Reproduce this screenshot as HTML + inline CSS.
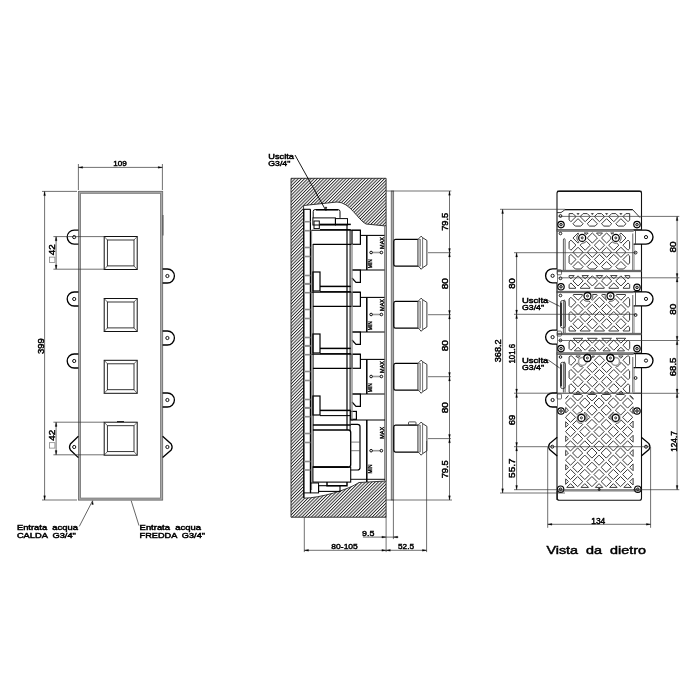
<!DOCTYPE html>
<html><head><meta charset="utf-8"><style>html,body{margin:0;padding:0;background:#fff;width:700px;height:700px;overflow:hidden}svg{display:block;will-change:transform}</style></head><body>
<svg width="700" height="700" viewBox="0 0 700 700"><defs><pattern id="hatch" patternUnits="userSpaceOnUse" width="2.26" height="10" patternTransform="rotate(45)"><line x1="0.5" y1="0" x2="0.5" y2="10" stroke="#111" stroke-width="0.85"/></pattern></defs><rect x="79.6" y="192.3" width="82" height="306.8" stroke="#aaaaaa" stroke-width="2.4" fill="none"/>
<rect x="78.5" y="191.3" width="84.2" height="308.8" stroke="#666" stroke-width="0.8" fill="none"/>
<rect x="80.6" y="193.3" width="79.9" height="304.8" stroke="#777" stroke-width="0.8" fill="none"/>
<line x1="163" y1="215" x2="163" y2="235.5" stroke="#444" stroke-width="0.9"/>
<line x1="78.4" y1="164" x2="78.4" y2="190" stroke="#333" stroke-width="0.7"/>
<line x1="162.4" y1="164" x2="162.4" y2="190" stroke="#333" stroke-width="0.7"/>
<line x1="78.4" y1="167.4" x2="162.4" y2="167.4" stroke="#333" stroke-width="0.7"/>
<path d="M78.6,167.4 L82.6,166.5 L82.6,168.3 Z" stroke="#000" stroke-width="0.3" fill="#000"/>
<path d="M162.2,167.4 L158.2,166.5 L158.2,168.3 Z" stroke="#000" stroke-width="0.3" fill="#000"/>
<text x="120" y="166.2" font-family="Liberation Sans" font-size="7.4" font-weight="normal" text-anchor="middle" fill="#000" stroke="#000" stroke-width="0.45" style="white-space:pre" textLength="13.5" lengthAdjust="spacingAndGlyphs">109</text>
<line x1="42" y1="191.4" x2="77" y2="191.4" stroke="#333" stroke-width="0.7"/>
<line x1="42" y1="500" x2="77" y2="500" stroke="#333" stroke-width="0.7"/>
<line x1="44.6" y1="191.4" x2="44.6" y2="500" stroke="#333" stroke-width="0.7"/>
<path d="M44.6,191.6 L43.7,195.6 L45.5,195.6 Z" stroke="#000" stroke-width="0.3" fill="#000"/>
<path d="M44.6,499.8 L43.7,495.8 L45.5,495.8 Z" stroke="#000" stroke-width="0.3" fill="#000"/>
<text x="44" y="346.1" font-family="Liberation Sans" font-size="8.6" font-weight="normal" text-anchor="middle" fill="#000" stroke="#000" stroke-width="0.45" style="white-space:pre" textLength="15.7" lengthAdjust="spacingAndGlyphs" transform="rotate(-90 44 346.1)">399</text>
<rect x="104.2" y="236.5" width="33" height="33" stroke="#111" stroke-width="1" fill="none"/>
<rect x="107.4" y="240" width="26.6" height="25.9" stroke="#222" stroke-width="0.9" fill="none"/>
<line x1="104.2" y1="236.5" x2="107.4" y2="240" stroke="#333" stroke-width="0.7"/>
<line x1="137.2" y1="236.5" x2="134" y2="240" stroke="#333" stroke-width="0.7"/>
<line x1="104.2" y1="269.5" x2="107.4" y2="265.9" stroke="#333" stroke-width="0.7"/>
<line x1="137.2" y1="269.5" x2="134" y2="265.9" stroke="#333" stroke-width="0.7"/>
<rect x="104.2" y="298.5" width="33" height="33" stroke="#111" stroke-width="1" fill="none"/>
<rect x="107.4" y="302" width="26.6" height="25.9" stroke="#222" stroke-width="0.9" fill="none"/>
<line x1="104.2" y1="298.5" x2="107.4" y2="302" stroke="#333" stroke-width="0.7"/>
<line x1="137.2" y1="298.5" x2="134" y2="302" stroke="#333" stroke-width="0.7"/>
<line x1="104.2" y1="331.5" x2="107.4" y2="327.9" stroke="#333" stroke-width="0.7"/>
<line x1="137.2" y1="331.5" x2="134" y2="327.9" stroke="#333" stroke-width="0.7"/>
<rect x="104.2" y="360.3" width="33" height="33" stroke="#111" stroke-width="1" fill="none"/>
<rect x="107.4" y="363.8" width="26.6" height="25.9" stroke="#222" stroke-width="0.9" fill="none"/>
<line x1="104.2" y1="360.3" x2="107.4" y2="363.8" stroke="#333" stroke-width="0.7"/>
<line x1="137.2" y1="360.3" x2="134" y2="363.8" stroke="#333" stroke-width="0.7"/>
<line x1="104.2" y1="393.3" x2="107.4" y2="389.7" stroke="#333" stroke-width="0.7"/>
<line x1="137.2" y1="393.3" x2="134" y2="389.7" stroke="#333" stroke-width="0.7"/>
<rect x="104.2" y="422.2" width="33" height="33" stroke="#111" stroke-width="1" fill="none"/>
<rect x="107.4" y="425.7" width="26.6" height="25.9" stroke="#222" stroke-width="0.9" fill="none"/>
<line x1="104.2" y1="422.2" x2="107.4" y2="425.7" stroke="#333" stroke-width="0.7"/>
<line x1="137.2" y1="422.2" x2="134" y2="425.7" stroke="#333" stroke-width="0.7"/>
<line x1="104.2" y1="455.2" x2="107.4" y2="451.6" stroke="#333" stroke-width="0.7"/>
<line x1="137.2" y1="455.2" x2="134" y2="451.6" stroke="#333" stroke-width="0.7"/>
<line x1="117" y1="421.6" x2="124" y2="421.6" stroke="#222" stroke-width="1.2"/>
<path d="M78.4,230.1 L74.2,230.1 A7,7 0 0 0 74.2,244.1 L78.4,244.1" stroke="#000" stroke-width="1.3" fill="none"/>
<circle cx="74.2" cy="237.1" r="1.6" stroke="#111" stroke-width="1" fill="none"/>
<path d="M78.4,292 L74.2,292 A7,7 0 0 0 74.2,306 L78.4,306" stroke="#000" stroke-width="1.3" fill="none"/>
<circle cx="74.2" cy="299" r="1.6" stroke="#111" stroke-width="1" fill="none"/>
<path d="M78.4,354 L74.2,354 A7,7 0 0 0 74.2,368 L78.4,368" stroke="#000" stroke-width="1.3" fill="none"/>
<circle cx="74.2" cy="361" r="1.6" stroke="#111" stroke-width="1" fill="none"/>
<path d="M162.6,269 L167.4,269 A7,7 0 0 1 167.4,283 L162.6,283" stroke="#000" stroke-width="1.3" fill="none"/>
<circle cx="167.4" cy="276" r="1.6" stroke="#111" stroke-width="1" fill="none"/>
<path d="M162.6,331 L167.4,331 A7,7 0 0 1 167.4,345 L162.6,345" stroke="#000" stroke-width="1.3" fill="none"/>
<circle cx="167.4" cy="338" r="1.6" stroke="#111" stroke-width="1" fill="none"/>
<path d="M162.6,393 L167.4,393 A7,7 0 0 1 167.4,407 L162.6,407" stroke="#000" stroke-width="1.3" fill="none"/>
<circle cx="167.4" cy="400" r="1.6" stroke="#111" stroke-width="1" fill="none"/>
<path d="M78.4,436.2 L70.4,444 Q68.6,447 70.4,450 L78.4,457.6" stroke="#000" stroke-width="1.3" fill="none"/>
<circle cx="74.2" cy="447" r="1.6" stroke="#111" stroke-width="1" fill="none"/>
<path d="M162.6,436.2 L171.2,444 Q173,447 171.2,450 L162.6,457.6" stroke="#000" stroke-width="1.3" fill="none"/>
<circle cx="167.4" cy="447" r="1.6" stroke="#111" stroke-width="1" fill="none"/>
<line x1="53.4" y1="236.6" x2="104" y2="236.6" stroke="#333" stroke-width="0.7"/>
<line x1="53.4" y1="269.2" x2="104" y2="269.2" stroke="#333" stroke-width="0.7"/>
<line x1="56.1" y1="236.6" x2="56.1" y2="269.2" stroke="#333" stroke-width="0.7"/>
<path d="M56.1,236.8 L55.2,240.8 L57,240.8 Z" stroke="#000" stroke-width="0.3" fill="#000"/>
<path d="M56.1,269 L55.2,265 L57,265 Z" stroke="#000" stroke-width="0.3" fill="#000"/>
<rect x="49.6" y="257.1" width="5.3" height="5.4" stroke="#777" stroke-width="0.7" fill="none"/>
<text x="55.4" y="249.7" font-family="Liberation Sans" font-size="8.4" font-weight="normal" text-anchor="middle" fill="#000" stroke="#000" stroke-width="0.45" style="white-space:pre" textLength="10.9" lengthAdjust="spacingAndGlyphs" transform="rotate(-90 55.4 249.7)">42</text>
<line x1="53.4" y1="422.2" x2="104" y2="422.2" stroke="#333" stroke-width="0.7"/>
<line x1="53.4" y1="454.8" x2="104" y2="454.8" stroke="#333" stroke-width="0.7"/>
<line x1="56.1" y1="422.2" x2="56.1" y2="454.8" stroke="#333" stroke-width="0.7"/>
<path d="M56.1,422.4 L55.2,426.4 L57,426.4 Z" stroke="#000" stroke-width="0.3" fill="#000"/>
<path d="M56.1,454.6 L55.2,450.6 L57,450.6 Z" stroke="#000" stroke-width="0.3" fill="#000"/>
<rect x="49.6" y="442.7" width="5.3" height="5.4" stroke="#777" stroke-width="0.7" fill="none"/>
<text x="55.4" y="435.3" font-family="Liberation Sans" font-size="8.4" font-weight="normal" text-anchor="middle" fill="#000" stroke="#000" stroke-width="0.45" style="white-space:pre" textLength="10.9" lengthAdjust="spacingAndGlyphs" transform="rotate(-90 55.4 435.3)">42</text>
<line x1="92.6" y1="500.7" x2="79.3" y2="526.4" stroke="#222" stroke-width="0.7"/>
<path d="M92.6,500.9 L91.8,504.4 L93.4,504.4 Z" stroke="#000" stroke-width="0.3" fill="#000"/>
<line x1="131.2" y1="500.7" x2="139" y2="525.6" stroke="#222" stroke-width="0.7"/>
<text x="16.9" y="530" font-family="Liberation Sans" font-size="7" font-weight="normal" text-anchor="start" fill="#000" stroke="#000" stroke-width="0.45" style="white-space:pre" textLength="61" lengthAdjust="spacingAndGlyphs">Entrata  acqua</text>
<text x="16.9" y="537.8" font-family="Liberation Sans" font-size="7" font-weight="normal" text-anchor="start" fill="#000" stroke="#000" stroke-width="0.45" style="white-space:pre" textLength="59" lengthAdjust="spacingAndGlyphs">CALDA  G3/4"</text>
<text x="139.6" y="530" font-family="Liberation Sans" font-size="7" font-weight="normal" text-anchor="start" fill="#000" stroke="#000" stroke-width="0.45" style="white-space:pre" textLength="61.3" lengthAdjust="spacingAndGlyphs">Entrata  acqua</text>
<text x="139.6" y="537.8" font-family="Liberation Sans" font-size="7" font-weight="normal" text-anchor="start" fill="#000" stroke="#000" stroke-width="0.45" style="white-space:pre" textLength="65.4" lengthAdjust="spacingAndGlyphs">FREDDA  G3/4"</text>
<path d="M291,178.3 H386.1 V517.2 H291 Z M303.6,205.5 L337,202 C350,202 358,220 366,224 L386.1,226 L386.1,481 L359,482.5 C348,490 320,498 303.9,498.2 Z" fill="url(#hatch)" fill-rule="evenodd" stroke="#222" stroke-width="0.9"/>
<line x1="303.8" y1="209.3" x2="303.8" y2="498" stroke="#000" stroke-width="1.2"/>
<line x1="310.4" y1="209.3" x2="310.4" y2="493" stroke="#000" stroke-width="1.2"/>
<line x1="303.8" y1="209.3" x2="310.4" y2="209.3" stroke="#000" stroke-width="1.08"/>
<line x1="311.6" y1="230" x2="311.6" y2="490" stroke="#555" stroke-width="0.7"/>
<line x1="313.1" y1="244" x2="313.1" y2="467" stroke="#111" stroke-width="1"/>
<path d="M313.2,217.9 V211.5 Q313.2,209.6 315,209.6 H338 Q340,209.6 340,211.5 V217.9" stroke="#000" stroke-width="0.96" fill="none"/>
<line x1="316" y1="209.8" x2="338" y2="209.8" stroke="#000" stroke-width="1.5"/>
<rect x="312.9" y="217.9" width="22.5" height="7.1" stroke="#000" stroke-width="0.96" fill="none"/>
<rect x="335.4" y="218.6" width="12.1" height="6.4" stroke="#000" stroke-width="0.96" fill="none"/>
<rect x="314" y="221" width="5.3" height="7.6" stroke="#000" stroke-width="0.96" fill="none"/>
<rect x="384.3" y="226" width="2.3" height="255" stroke="#666" stroke-width="0.6" fill="#aaa"/>
<line x1="320" y1="224.4" x2="350.8" y2="224.4" stroke="#000" stroke-width="1.5"/>
<line x1="320" y1="229.6" x2="350.8" y2="229.6" stroke="#000" stroke-width="1.08"/>
<line x1="311.5" y1="230.2" x2="360.4" y2="230.2" stroke="#000" stroke-width="1.08"/>
<rect x="352" y="230.2" width="8.4" height="14.1" stroke="#000" stroke-width="1.2" fill="none"/>
<line x1="366.8" y1="235.4" x2="366.8" y2="270" stroke="#000" stroke-width="1.5"/>
<line x1="360.4" y1="235.4" x2="384.5" y2="235.4" stroke="#000" stroke-width="1.08"/>
<line x1="352" y1="270" x2="384.5" y2="270" stroke="#000" stroke-width="1.08"/>
<text x="384.2" y="243" font-family="Liberation Sans" font-size="5.4" font-weight="normal" text-anchor="middle" fill="#000" stroke="#000" stroke-width="0.38" style="white-space:pre" textLength="11.8" lengthAdjust="spacingAndGlyphs" transform="rotate(-90 384.2 243)">MAX</text>
<text x="371.9" y="263.7" font-family="Liberation Sans" font-size="5.4" font-weight="normal" text-anchor="middle" fill="#000" stroke="#000" stroke-width="0.38" style="white-space:pre" textLength="8.9" lengthAdjust="spacingAndGlyphs" transform="rotate(-90 371.9 263.7)">MIN</text>
<line x1="371.1" y1="252.5" x2="381.4" y2="252.5" stroke="#999" stroke-width="1.6"/>
<circle cx="371.1" cy="252.5" r="1.3" stroke="#000" stroke-width="0.96" fill="#fff"/>
<circle cx="381.4" cy="252.5" r="1.3" stroke="#000" stroke-width="0.96" fill="#fff"/>
<line x1="312.9" y1="244.3" x2="352" y2="244.3" stroke="#000" stroke-width="1.32"/>
<rect x="312.9" y="272" width="7.1" height="19" stroke="#000" stroke-width="1.2" fill="none"/>
<path d="M352,270 H360.4 V282.3 H356 L352,278" stroke="#000" stroke-width="1.2" fill="none"/>
<rect x="303.8" y="220.9" width="6.6" height="1.6" stroke="none" stroke-width="0" fill="#8a8a8a"/>
<rect x="303.8" y="229.9" width="6.6" height="1.6" stroke="none" stroke-width="0" fill="#8a8a8a"/>
<rect x="303.8" y="246.7" width="6.6" height="1.6" stroke="none" stroke-width="0" fill="#8a8a8a"/>
<rect x="303.8" y="255.7" width="6.6" height="1.6" stroke="none" stroke-width="0" fill="#8a8a8a"/>
<rect x="303.8" y="274.7" width="6.6" height="1.6" stroke="none" stroke-width="0" fill="#8a8a8a"/>
<rect x="303.8" y="283.2" width="6.6" height="1.6" stroke="none" stroke-width="0" fill="#8a8a8a"/>
<line x1="320" y1="286.4" x2="350.8" y2="286.4" stroke="#000" stroke-width="1.5"/>
<line x1="320" y1="291.6" x2="350.8" y2="291.6" stroke="#000" stroke-width="1.08"/>
<line x1="311.5" y1="292.2" x2="360.4" y2="292.2" stroke="#000" stroke-width="1.08"/>
<rect x="352" y="292.2" width="8.4" height="14.1" stroke="#000" stroke-width="1.2" fill="none"/>
<line x1="366.8" y1="297.4" x2="366.8" y2="332" stroke="#000" stroke-width="1.5"/>
<line x1="360.4" y1="297.4" x2="384.5" y2="297.4" stroke="#000" stroke-width="1.08"/>
<line x1="352" y1="332" x2="384.5" y2="332" stroke="#000" stroke-width="1.08"/>
<text x="384.2" y="305" font-family="Liberation Sans" font-size="5.4" font-weight="normal" text-anchor="middle" fill="#000" stroke="#000" stroke-width="0.38" style="white-space:pre" textLength="11.8" lengthAdjust="spacingAndGlyphs" transform="rotate(-90 384.2 305)">MAX</text>
<text x="371.9" y="325.7" font-family="Liberation Sans" font-size="5.4" font-weight="normal" text-anchor="middle" fill="#000" stroke="#000" stroke-width="0.38" style="white-space:pre" textLength="8.9" lengthAdjust="spacingAndGlyphs" transform="rotate(-90 371.9 325.7)">MIN</text>
<line x1="371.1" y1="314.5" x2="381.4" y2="314.5" stroke="#999" stroke-width="1.6"/>
<circle cx="371.1" cy="314.5" r="1.3" stroke="#000" stroke-width="0.96" fill="#fff"/>
<circle cx="381.4" cy="314.5" r="1.3" stroke="#000" stroke-width="0.96" fill="#fff"/>
<line x1="312.9" y1="306.3" x2="352" y2="306.3" stroke="#000" stroke-width="1.32"/>
<rect x="312.9" y="334" width="7.1" height="19" stroke="#000" stroke-width="1.2" fill="none"/>
<path d="M352,332 H360.4 V344.3 H356 L352,340" stroke="#000" stroke-width="1.2" fill="none"/>
<rect x="303.8" y="282.9" width="6.6" height="1.6" stroke="none" stroke-width="0" fill="#8a8a8a"/>
<rect x="303.8" y="291.9" width="6.6" height="1.6" stroke="none" stroke-width="0" fill="#8a8a8a"/>
<rect x="303.8" y="308.7" width="6.6" height="1.6" stroke="none" stroke-width="0" fill="#8a8a8a"/>
<rect x="303.8" y="317.7" width="6.6" height="1.6" stroke="none" stroke-width="0" fill="#8a8a8a"/>
<rect x="303.8" y="336.7" width="6.6" height="1.6" stroke="none" stroke-width="0" fill="#8a8a8a"/>
<rect x="303.8" y="345.2" width="6.6" height="1.6" stroke="none" stroke-width="0" fill="#8a8a8a"/>
<line x1="320" y1="348.4" x2="350.8" y2="348.4" stroke="#000" stroke-width="1.5"/>
<line x1="320" y1="353.6" x2="350.8" y2="353.6" stroke="#000" stroke-width="1.08"/>
<line x1="311.5" y1="354.2" x2="360.4" y2="354.2" stroke="#000" stroke-width="1.08"/>
<rect x="352" y="354.2" width="8.4" height="14.1" stroke="#000" stroke-width="1.2" fill="none"/>
<line x1="366.8" y1="359.4" x2="366.8" y2="394" stroke="#000" stroke-width="1.5"/>
<line x1="360.4" y1="359.4" x2="384.5" y2="359.4" stroke="#000" stroke-width="1.08"/>
<line x1="352" y1="394" x2="384.5" y2="394" stroke="#000" stroke-width="1.08"/>
<text x="384.2" y="367" font-family="Liberation Sans" font-size="5.4" font-weight="normal" text-anchor="middle" fill="#000" stroke="#000" stroke-width="0.38" style="white-space:pre" textLength="11.8" lengthAdjust="spacingAndGlyphs" transform="rotate(-90 384.2 367)">MAX</text>
<text x="371.9" y="387.7" font-family="Liberation Sans" font-size="5.4" font-weight="normal" text-anchor="middle" fill="#000" stroke="#000" stroke-width="0.38" style="white-space:pre" textLength="8.9" lengthAdjust="spacingAndGlyphs" transform="rotate(-90 371.9 387.7)">MIN</text>
<line x1="371.1" y1="376.5" x2="381.4" y2="376.5" stroke="#999" stroke-width="1.6"/>
<circle cx="371.1" cy="376.5" r="1.3" stroke="#000" stroke-width="0.96" fill="#fff"/>
<circle cx="381.4" cy="376.5" r="1.3" stroke="#000" stroke-width="0.96" fill="#fff"/>
<line x1="312.9" y1="368.3" x2="352" y2="368.3" stroke="#000" stroke-width="1.32"/>
<rect x="312.9" y="396" width="7.1" height="19" stroke="#000" stroke-width="1.2" fill="none"/>
<path d="M352,394 H360.4 V406.3 H356 L352,402" stroke="#000" stroke-width="1.2" fill="none"/>
<rect x="303.8" y="344.9" width="6.6" height="1.6" stroke="none" stroke-width="0" fill="#8a8a8a"/>
<rect x="303.8" y="353.9" width="6.6" height="1.6" stroke="none" stroke-width="0" fill="#8a8a8a"/>
<rect x="303.8" y="370.7" width="6.6" height="1.6" stroke="none" stroke-width="0" fill="#8a8a8a"/>
<rect x="303.8" y="379.7" width="6.6" height="1.6" stroke="none" stroke-width="0" fill="#8a8a8a"/>
<rect x="303.8" y="398.7" width="6.6" height="1.6" stroke="none" stroke-width="0" fill="#8a8a8a"/>
<rect x="303.8" y="407.2" width="6.6" height="1.6" stroke="none" stroke-width="0" fill="#8a8a8a"/>
<line x1="320" y1="410.4" x2="350.8" y2="410.4" stroke="#000" stroke-width="1.5"/>
<line x1="320" y1="415.6" x2="350.8" y2="415.6" stroke="#000" stroke-width="1.08"/>
<rect x="350.7" y="411.4" width="5.7" height="7.9" stroke="#000" stroke-width="1.2" fill="none"/>
<line x1="366.8" y1="420" x2="366.8" y2="482.1" stroke="#000" stroke-width="1.5"/>
<text x="384.2" y="432.8" font-family="Liberation Sans" font-size="5.4" font-weight="normal" text-anchor="middle" fill="#000" stroke="#000" stroke-width="0.38" style="white-space:pre" textLength="11.8" lengthAdjust="spacingAndGlyphs" transform="rotate(-90 384.2 432.8)">MAX</text>
<text x="371.9" y="469" font-family="Liberation Sans" font-size="5.4" font-weight="normal" text-anchor="middle" fill="#000" stroke="#000" stroke-width="0.38" style="white-space:pre" textLength="8.9" lengthAdjust="spacingAndGlyphs" transform="rotate(-90 371.9 469)">MIN</text>
<line x1="371.1" y1="450.7" x2="381.4" y2="450.7" stroke="#999" stroke-width="1.6"/>
<circle cx="371.1" cy="450.7" r="1.3" stroke="#000" stroke-width="0.96" fill="#fff"/>
<circle cx="381.4" cy="450.7" r="1.3" stroke="#000" stroke-width="0.96" fill="#fff"/>
<rect x="303.8" y="406.9" width="6.6" height="1.6" stroke="none" stroke-width="0" fill="#8a8a8a"/>
<rect x="303.8" y="415.9" width="6.6" height="1.6" stroke="none" stroke-width="0" fill="#8a8a8a"/>
<rect x="303.8" y="432.7" width="6.6" height="1.6" stroke="none" stroke-width="0" fill="#8a8a8a"/>
<rect x="303.8" y="441.7" width="6.6" height="1.6" stroke="none" stroke-width="0" fill="#8a8a8a"/>
<rect x="303.8" y="460.7" width="6.6" height="1.6" stroke="none" stroke-width="0" fill="#8a8a8a"/>
<rect x="303.8" y="469.2" width="6.6" height="1.6" stroke="none" stroke-width="0" fill="#8a8a8a"/>
<line x1="347" y1="225" x2="347" y2="430" stroke="#000" stroke-width="1.2"/>
<line x1="350.1" y1="230" x2="350.1" y2="430" stroke="#000" stroke-width="0.96"/>
<line x1="352" y1="244" x2="352" y2="421" stroke="#888" stroke-width="1.3"/>
<line x1="312.9" y1="425" x2="350.7" y2="425" stroke="#000" stroke-width="1.44"/>
<path d="M312.9,430 H348.5 Q350.7,430 350.7,432.5 V464.6 Q350.7,467.1 348.5,467.1 H312.9" stroke="#000" stroke-width="1.32" fill="none"/>
<line x1="312.9" y1="467.1" x2="348.5" y2="467.1" stroke="#000" stroke-width="1.5"/>
<path d="M350.7,424.3 H357.5 Q360,424.3 360,426.5 V467.8 Q360,470 357.5,470 H350.7" stroke="#000" stroke-width="1.2" fill="none"/>
<line x1="350.7" y1="442.1" x2="360" y2="442.1" stroke="#444" stroke-width="0.7"/>
<line x1="350.7" y1="450.7" x2="360" y2="450.7" stroke="#444" stroke-width="0.7"/>
<rect x="312.9" y="467.1" width="37.8" height="15" stroke="#000" stroke-width="1.08" fill="none"/>
<line x1="350.7" y1="479.3" x2="385" y2="479.3" stroke="#000" stroke-width="0.96"/>
<line x1="350" y1="420" x2="385" y2="420" stroke="#000" stroke-width="1.08"/>
<path d="M327,482.1 V485.7 H347 V482.1" stroke="#000" stroke-width="1.44" fill="none"/>
<rect x="318.6" y="485.7" width="21.4" height="5.7" stroke="#000" stroke-width="1.08" fill="none"/>
<rect x="310.7" y="483" width="7.9" height="9.9" stroke="#000" stroke-width="0.96" fill="none"/>
<line x1="303.8" y1="492.9" x2="310.7" y2="492.9" stroke="#000" stroke-width="0.96"/>
<rect x="391.2" y="191" width="2.5" height="309" stroke="#555" stroke-width="0.7" fill="#aaa"/>
<line x1="386.1" y1="191" x2="451.3" y2="191" stroke="#333" stroke-width="0.7"/>
<line x1="386.1" y1="500" x2="452" y2="500" stroke="#333" stroke-width="0.7"/>
<path d="M418,239.3 H395.5 Q393.8,239.3 393.8,241.2 V264.2 Q393.8,266.1 395.5,266.1 H418" stroke="#000" stroke-width="1.25" fill="none"/>
<path d="M418,239.3 L419.8,237.7 L421.2,236.1 L422.6,237.7 L426.9,240.4 V265 L422.6,267.7 L421.2,269.3 L419.8,267.7 L418,266.1 Z" stroke="#222" stroke-width="0.9" fill="#fff"/>
<rect x="418" y="239.3" width="2.6" height="26.8" stroke="#555" stroke-width="0.5" fill="#bbb"/>
<line x1="422.6" y1="237.7" x2="422.6" y2="267.7" stroke="#333" stroke-width="0.7"/>
<line x1="428" y1="252.7" x2="451" y2="252.7" stroke="#333" stroke-width="0.7"/>
<path d="M418,301.3 H395.5 Q393.8,301.3 393.8,303.2 V326.2 Q393.8,328.1 395.5,328.1 H418" stroke="#000" stroke-width="1.25" fill="none"/>
<path d="M418,301.3 L419.8,299.7 L421.2,298.1 L422.6,299.7 L426.9,302.4 V327 L422.6,329.7 L421.2,331.3 L419.8,329.7 L418,328.1 Z" stroke="#222" stroke-width="0.9" fill="#fff"/>
<rect x="418" y="301.3" width="2.6" height="26.8" stroke="#555" stroke-width="0.5" fill="#bbb"/>
<line x1="422.6" y1="299.7" x2="422.6" y2="329.7" stroke="#333" stroke-width="0.7"/>
<line x1="428" y1="314.7" x2="451" y2="314.7" stroke="#333" stroke-width="0.7"/>
<path d="M418,363.3 H395.5 Q393.8,363.3 393.8,365.2 V388.2 Q393.8,390.1 395.5,390.1 H418" stroke="#000" stroke-width="1.25" fill="none"/>
<path d="M418,363.3 L419.8,361.7 L421.2,360.1 L422.6,361.7 L426.9,364.4 V389 L422.6,391.7 L421.2,393.3 L419.8,391.7 L418,390.1 Z" stroke="#222" stroke-width="0.9" fill="#fff"/>
<rect x="418" y="363.3" width="2.6" height="26.8" stroke="#555" stroke-width="0.5" fill="#bbb"/>
<line x1="422.6" y1="361.7" x2="422.6" y2="391.7" stroke="#333" stroke-width="0.7"/>
<line x1="428" y1="376.7" x2="451" y2="376.7" stroke="#333" stroke-width="0.7"/>
<path d="M418,425.2 H395.5 Q393.8,425.2 393.8,427.1 V450.1 Q393.8,452 395.5,452 H418" stroke="#000" stroke-width="1.25" fill="none"/>
<path d="M418,425.2 L419.8,423.6 L421.2,422 L422.6,423.6 L426.9,426.3 V450.9 L422.6,453.6 L421.2,455.2 L419.8,453.6 L418,452 Z" stroke="#222" stroke-width="0.9" fill="#fff"/>
<rect x="418" y="425.2" width="2.6" height="26.8" stroke="#555" stroke-width="0.5" fill="#bbb"/>
<line x1="422.6" y1="423.6" x2="422.6" y2="453.6" stroke="#333" stroke-width="0.7"/>
<line x1="428" y1="438.6" x2="451" y2="438.6" stroke="#333" stroke-width="0.7"/>
<rect x="408.5" y="421.9" width="7.5" height="3.1" rx="0.8" stroke="#222" stroke-width="0.8" fill="none"/>
<line x1="449.5" y1="191" x2="449.5" y2="500" stroke="#333" stroke-width="0.7"/>
<path d="M449.5,191.2 L448.6,195.2 L450.4,195.2 Z" stroke="#000" stroke-width="0.3" fill="#000"/>
<path d="M449.5,252.5 L448.6,248.5 L450.4,248.5 Z" stroke="#000" stroke-width="0.3" fill="#000"/>
<text x="448.3" y="221.85" font-family="Liberation Sans" font-size="8.2" font-weight="normal" text-anchor="middle" fill="#000" stroke="#000" stroke-width="0.45" style="white-space:pre" textLength="18" lengthAdjust="spacingAndGlyphs" transform="rotate(-90 448.3 221.85)">79.5</text>
<path d="M449.5,252.9 L448.6,256.9 L450.4,256.9 Z" stroke="#000" stroke-width="0.3" fill="#000"/>
<path d="M449.5,314.5 L448.6,310.5 L450.4,310.5 Z" stroke="#000" stroke-width="0.3" fill="#000"/>
<text x="448.3" y="283.7" font-family="Liberation Sans" font-size="8.2" font-weight="normal" text-anchor="middle" fill="#000" stroke="#000" stroke-width="0.45" style="white-space:pre" textLength="11.3" lengthAdjust="spacingAndGlyphs" transform="rotate(-90 448.3 283.7)">80</text>
<path d="M449.5,314.9 L448.6,318.9 L450.4,318.9 Z" stroke="#000" stroke-width="0.3" fill="#000"/>
<path d="M449.5,376.5 L448.6,372.5 L450.4,372.5 Z" stroke="#000" stroke-width="0.3" fill="#000"/>
<text x="448.3" y="345.7" font-family="Liberation Sans" font-size="8.2" font-weight="normal" text-anchor="middle" fill="#000" stroke="#000" stroke-width="0.45" style="white-space:pre" textLength="11.3" lengthAdjust="spacingAndGlyphs" transform="rotate(-90 448.3 345.7)">80</text>
<path d="M449.5,376.9 L448.6,380.9 L450.4,380.9 Z" stroke="#000" stroke-width="0.3" fill="#000"/>
<path d="M449.5,438.4 L448.6,434.4 L450.4,434.4 Z" stroke="#000" stroke-width="0.3" fill="#000"/>
<text x="448.3" y="407.65" font-family="Liberation Sans" font-size="8.2" font-weight="normal" text-anchor="middle" fill="#000" stroke="#000" stroke-width="0.45" style="white-space:pre" textLength="11.3" lengthAdjust="spacingAndGlyphs" transform="rotate(-90 448.3 407.65)">80</text>
<path d="M449.5,438.8 L448.6,442.8 L450.4,442.8 Z" stroke="#000" stroke-width="0.3" fill="#000"/>
<path d="M449.5,499.8 L448.6,495.8 L450.4,495.8 Z" stroke="#000" stroke-width="0.3" fill="#000"/>
<text x="448.3" y="469.3" font-family="Liberation Sans" font-size="8.2" font-weight="normal" text-anchor="middle" fill="#000" stroke="#000" stroke-width="0.45" style="white-space:pre" textLength="18" lengthAdjust="spacingAndGlyphs" transform="rotate(-90 448.3 469.3)">79.5</text>
<line x1="304.3" y1="517" x2="304.3" y2="552.1" stroke="#333" stroke-width="0.7"/>
<line x1="386.1" y1="517" x2="386.1" y2="552.1" stroke="#333" stroke-width="0.7"/>
<line x1="393.4" y1="500" x2="393.4" y2="539.1" stroke="#333" stroke-width="0.7"/>
<line x1="426.6" y1="441" x2="426.6" y2="552.1" stroke="#333" stroke-width="0.7"/>
<line x1="304.3" y1="550.3" x2="426.6" y2="550.3" stroke="#333" stroke-width="0.7"/>
<path d="M304.5,550.3 L308.5,549.4 L308.5,551.2 Z" stroke="#000" stroke-width="0.3" fill="#000"/>
<path d="M385.9,550.3 L381.9,549.4 L381.9,551.2 Z" stroke="#000" stroke-width="0.3" fill="#000"/>
<path d="M386.3,550.3 L390.3,549.4 L390.3,551.2 Z" stroke="#000" stroke-width="0.3" fill="#000"/>
<path d="M426.4,550.3 L422.4,549.4 L422.4,551.2 Z" stroke="#000" stroke-width="0.3" fill="#000"/>
<text x="344.6" y="549.3" font-family="Liberation Sans" font-size="8" font-weight="normal" text-anchor="middle" fill="#000" stroke="#000" stroke-width="0.45" style="white-space:pre" textLength="26.5" lengthAdjust="spacingAndGlyphs">80-105</text>
<text x="406" y="549" font-family="Liberation Sans" font-size="8" font-weight="normal" text-anchor="middle" fill="#000" stroke="#000" stroke-width="0.45" style="white-space:pre" textLength="16" lengthAdjust="spacingAndGlyphs">52.5</text>
<line x1="362.9" y1="537.1" x2="398.3" y2="537.1" stroke="#333" stroke-width="0.7"/>
<path d="M385.9,537.1 L381.9,536.2 L381.9,538 Z" stroke="#000" stroke-width="0.3" fill="#000"/>
<path d="M393.6,537.1 L397.6,536.2 L397.6,538 Z" stroke="#000" stroke-width="0.3" fill="#000"/>
<text x="368.2" y="536.4" font-family="Liberation Sans" font-size="8" font-weight="normal" text-anchor="middle" fill="#000" stroke="#000" stroke-width="0.45" style="white-space:pre" textLength="12.3" lengthAdjust="spacingAndGlyphs">9.5</text>
<text x="268.3" y="158.6" font-family="Liberation Sans" font-size="7.2" font-weight="normal" text-anchor="start" fill="#000" stroke="#000" stroke-width="0.45" style="white-space:pre" textLength="25.7" lengthAdjust="spacingAndGlyphs">Uscita</text>
<text x="268.3" y="166.2" font-family="Liberation Sans" font-size="7.2" font-weight="normal" text-anchor="start" fill="#000" stroke="#000" stroke-width="0.45" style="white-space:pre" textLength="22" lengthAdjust="spacingAndGlyphs">G3/4"</text>
<line x1="295" y1="155" x2="326" y2="210.7" stroke="#000" stroke-width="0.9"/>
<path d="M326,210.5 L325.2,207 L326.8,207 Z" stroke="#000" stroke-width="0.3" fill="#000"/>
<path d="M557,500 V193.3 Q557,191.1 559.2,191.1 H639.3 Q641.5,191.1 641.5,193.3 V491" stroke="#111" stroke-width="1.1" fill="none"/>
<line x1="557" y1="191.4" x2="641.5" y2="191.4" stroke="#111" stroke-width="1.2"/>
<path d="M557,212.6 L561,212.6 L565.1,209.6 H632.6 L640,217.6" stroke="#222" stroke-width="0.9" fill="none"/>
<line x1="565.1" y1="209.6" x2="632.6" y2="209.6" stroke="#111" stroke-width="1.4"/>
<rect x="557" y="229.6" width="84.5" height="1.6" stroke="#333" stroke-width="0.6" fill="#888"/>
<rect x="557" y="270.2" width="84.5" height="1.6" stroke="#333" stroke-width="0.6" fill="#888"/>
<rect x="557" y="291.2" width="84.5" height="1.6" stroke="#333" stroke-width="0.6" fill="#888"/>
<rect x="557" y="333.2" width="84.5" height="1.6" stroke="#333" stroke-width="0.6" fill="#888"/>
<rect x="557" y="352.8" width="84.5" height="1.6" stroke="#333" stroke-width="0.6" fill="#888"/>
<line x1="557" y1="393.2" x2="641.5" y2="393.2" stroke="#222" stroke-width="0.9"/>
<path d="M570.9,221.71 L576,216.61 L572.99,213.6 L569.1,213.6 L569.1,219.91Z M578.04,214.57 L579.01,213.6 L577.08,213.6Z M583.14,223.75 L578.04,218.65 L572.94,223.75 L575.29,226.1 L580.8,226.1Z M580.09,216.61 L585.19,221.71 L590.29,216.61 L587.28,213.6 L583.1,213.6Z M592.33,214.57 L593.3,213.6 L591.36,213.6Z M597.43,223.75 L592.33,218.65 L587.23,223.75 L589.58,226.1 L595.08,226.1Z M594.37,216.61 L599.47,221.71 L604.57,216.61 L601.56,213.6 L597.38,213.6Z M606.62,214.57 L607.58,213.6 L605.65,213.6Z M611.72,223.75 L606.62,218.65 L601.51,223.75 L603.86,226.1 L609.37,226.1Z M608.66,216.61 L613.76,221.71 L618.86,216.61 L615.85,213.6 L611.67,213.6Z M620.9,214.57 L621.87,213.6 L619.93,213.6Z M626,223.75 L620.9,218.65 L615.8,223.75 L618.15,226.1 L623.65,226.1Z M622.94,216.61 L628.04,221.71 L629.7,220.05 L629.7,213.6 L625.95,213.6Z" stroke="#3a3a3a" stroke-width="1" fill="none" stroke-linejoin="round"/>
<path d="M570.9,278.85 L574.15,275.6 L569.1,275.6 L569.1,277.05Z M576,288.04 L570.9,282.94 L569.1,284.74 L569.1,288.3 L575.74,288.3Z M572.94,280.9 L578.04,286 L583.14,280.9 L578.04,275.8Z M585.19,278.85 L588.44,275.6 L581.93,275.6Z M590.29,288.04 L585.19,282.94 L580.09,288.04 L580.35,288.3 L590.03,288.3Z M587.23,280.9 L592.33,286 L597.43,280.9 L592.33,275.8Z M599.47,278.85 L602.73,275.6 L596.22,275.6Z M604.57,288.04 L599.47,282.94 L594.37,288.04 L594.63,288.3 L604.31,288.3Z M601.51,280.9 L606.62,286 L611.72,280.9 L606.62,275.8Z M613.76,278.85 L617.01,275.6 L610.5,275.6Z M618.86,288.04 L613.76,282.94 L608.66,288.04 L608.92,288.3 L618.6,288.3Z M615.8,280.9 L620.9,286 L626,280.9 L620.9,275.8Z M628.04,278.85 L629.7,277.2 L629.7,275.6 L624.79,275.6Z M628.04,282.94 L622.94,288.04 L623.2,288.3 L629.7,288.3 L629.7,284.6Z" stroke="#3a3a3a" stroke-width="1" fill="none" stroke-linejoin="round"/>
<path d="M570.9,350.28 L576,345.18 L570.9,340.08 L569.1,341.88 L569.1,348.48Z M578.04,343.14 L582.88,338.3 L573.2,338.3Z M578.04,347.23 L574.37,350.9 L581.72,350.9Z M580.09,345.18 L585.19,350.28 L590.29,345.18 L585.19,340.08Z M592.33,343.14 L597.17,338.3 L587.49,338.3Z M592.33,347.23 L588.66,350.9 L596,350.9Z M594.37,345.18 L599.47,350.28 L604.57,345.18 L599.47,340.08Z M606.62,343.14 L611.46,338.3 L601.77,338.3Z M606.62,347.23 L602.94,350.9 L610.29,350.9Z M608.66,345.18 L613.76,350.28 L618.86,345.18 L613.76,340.08Z M620.9,343.14 L625.74,338.3 L616.06,338.3Z M620.9,347.23 L617.23,350.9 L624.57,350.9Z M628.04,340.08 L622.94,345.18 L628.04,350.28 L629.7,348.63 L629.7,341.74Z" stroke="#3a3a3a" stroke-width="1" fill="none" stroke-linejoin="round"/>
<path d="M570.9,250.28 L576,245.18 L570.9,240.08 L569.1,241.88 L569.1,248.48Z M570.9,264.57 L576,259.47 L570.9,254.37 L569.1,256.17 L569.1,262.77Z M578.1,233 L577.98,233 L572.94,238.04 L578.04,243.14 L579.04,242.14 L578.84,242 L578.45,241.65 L578.1,241.26 L577.79,240.84 L577.53,240.4 L577.3,239.93 L577.13,239.44 L577,238.93 L576.93,238.42 L576.9,237.9 L576.93,237.38 L577,236.87 L577.13,236.36 L577.3,235.87 L577.53,235.4 L577.79,234.96 L578.1,234.54 L578.45,234.15 L578.84,233.8 L578.88,233.77Z M572.94,252.32 L578.04,257.43 L583.14,252.32 L578.04,247.22Z M583.14,266.61 L578.04,261.51 L572.94,266.61 L575.33,269 L580.75,269Z M588.18,233 L584.22,233 L584.23,233 L584.7,233.23 L585.14,233.49 L585.56,233.8 L585.95,234.15 L586.3,234.54 L586.44,234.74Z M580.09,245.18 L585.19,250.28 L590.29,245.18 L586.33,241.22 L586.3,241.26 L585.95,241.65 L585.56,242 L585.14,242.31 L584.7,242.57 L584.23,242.8 L583.74,242.97 L583.23,243.1 L582.72,243.17 L582.2,243.2 L582.07,243.19Z M580.09,259.47 L585.19,264.57 L590.29,259.47 L585.19,254.37Z M592.33,243.14 L597.43,238.04 L592.39,233 L592.27,233 L587.49,237.77 L587.5,237.9 L587.48,238.29Z M587.23,252.32 L592.33,257.43 L597.43,252.32 L592.33,247.22Z M597.43,266.61 L592.33,261.51 L587.23,266.61 L589.62,269 L595.04,269Z M599.47,236 L602.47,233 L596.48,233Z M594.37,245.18 L599.47,250.28 L604.57,245.18 L599.47,240.08Z M594.37,259.47 L599.47,264.57 L604.57,259.47 L599.47,254.37Z M606.68,233 L606.55,233 L601.51,238.04 L606.62,243.14 L610.65,239.11 L610.6,238.93 L610.53,238.42 L610.5,237.9 L610.53,237.38 L610.59,236.92Z M601.51,252.32 L606.62,257.43 L611.72,252.32 L606.62,247.22Z M611.72,266.61 L606.62,261.51 L601.51,266.61 L603.9,269 L609.33,269Z M611.99,234.22 L612.05,234.15 L612.44,233.8 L612.86,233.49 L613.3,233.23 L613.77,233 L613.78,233 L610.76,233Z M608.66,245.18 L613.76,250.28 L618.86,245.18 L616.78,243.11 L616.32,243.17 L615.8,243.2 L615.28,243.17 L614.77,243.1 L614.26,242.97 L613.77,242.8 L613.3,242.57 L612.86,242.31 L612.44,242 L612.13,241.71Z M608.66,259.47 L613.76,264.57 L618.86,259.47 L613.76,254.37Z M620.9,243.14 L626,238.04 L620.96,233 L620.84,233 L619.61,234.23 L619.9,234.54 L620.21,234.96 L620.47,235.4 L620.7,235.87 L620.87,236.36 L621,236.87 L621.07,237.38 L621.1,237.9 L621.07,238.42 L621,238.93 L620.87,239.44 L620.7,239.93 L620.47,240.4 L620.21,240.84 L619.9,241.26 L619.55,241.65 L619.48,241.71Z M615.8,252.32 L620.9,257.43 L626,252.32 L620.9,247.22Z M626,266.61 L620.9,261.51 L615.8,266.61 L618.19,269 L623.61,269Z M628.04,240.08 L622.94,245.18 L628.04,250.28 L629.6,248.73 L629.6,241.64Z M628.04,254.37 L622.94,259.47 L628.04,264.57 L629.6,263.01 L629.6,255.92Z" stroke="#3a3a3a" stroke-width="1" fill="none" stroke-linejoin="round"/>
<circle cx="582.2" cy="237.9" r="3.5" stroke="#000" stroke-width="1.3" fill="#fff"/>
<circle cx="582.2" cy="237.9" r="1" stroke="#111" stroke-width="0.9" fill="#fff"/>
<circle cx="615.8" cy="237.9" r="3.5" stroke="#000" stroke-width="1.3" fill="#fff"/>
<circle cx="615.8" cy="237.9" r="1" stroke="#111" stroke-width="0.9" fill="#fff"/>
<path d="M570.9,307.43 L576,302.33 L570.9,297.23 L569.1,299.03 L569.1,305.63Z M570.9,321.71 L576,316.61 L570.9,311.51 L569.1,313.31 L569.1,319.91Z M576,330.9 L570.9,325.8 L569.1,327.6 L569.1,331 L575.9,331Z M572.94,295.18 L578.04,300.28 L582.21,296.12 L582.2,296 L582.23,295.48 L582.3,294.97 L582.42,294.5 L573.63,294.5Z M572.94,309.47 L578.04,314.57 L583.14,309.47 L578.04,304.37Z M572.94,323.75 L578.04,328.86 L583.14,323.75 L578.04,318.65Z M580.09,302.33 L585.19,307.43 L590.29,302.33 L589.03,301.07 L588.53,301.2 L588.02,301.27 L587.5,301.3 L586.98,301.27 L586.47,301.2 L585.96,301.07 L585.47,300.9 L585,300.67 L584.56,300.41 L584.14,300.1 L583.75,299.75 L583.4,299.36 L583.25,299.16Z M580.09,316.61 L585.19,321.71 L590.29,316.61 L585.19,311.51Z M590.29,330.9 L585.19,325.8 L580.09,330.9 L580.19,331 L590.18,331Z M592.33,300.28 L597.43,295.18 L596.75,294.5 L592.58,294.5 L592.7,294.97 L592.77,295.48 L592.8,296 L592.77,296.52 L592.7,297.03 L592.57,297.54 L592.4,298.03 L592.17,298.5 L591.91,298.94 L591.6,299.36 L591.51,299.46Z M587.23,309.47 L592.33,314.57 L597.43,309.47 L592.33,304.37Z M587.23,323.75 L592.33,328.86 L597.43,323.75 L592.33,318.65Z M594.37,302.33 L599.47,307.43 L604.57,302.33 L599.47,297.23Z M594.37,316.61 L599.47,321.71 L604.57,316.61 L599.47,311.51Z M604.57,330.9 L599.47,325.8 L594.37,330.9 L594.47,331 L604.47,331Z M601.51,295.18 L606.62,300.28 L606.96,299.94 L606.75,299.75 L606.4,299.36 L606.09,298.94 L605.83,298.5 L605.6,298.03 L605.43,297.54 L605.3,297.03 L605.23,296.52 L605.2,296 L605.23,295.48 L605.3,294.97 L605.42,294.5 L602.2,294.5Z M601.51,309.47 L606.62,314.57 L611.72,309.47 L606.62,304.37Z M601.51,323.75 L606.62,328.86 L611.72,323.75 L606.62,318.65Z M608.66,302.33 L613.76,307.43 L618.86,302.33 L615.12,298.59 L614.91,298.94 L614.6,299.36 L614.25,299.75 L613.86,300.1 L613.44,300.41 L613,300.67 L612.53,300.9 L612.04,301.07 L611.53,301.2 L611.02,301.27 L610.5,301.3 L609.98,301.27 L609.74,301.24Z M608.66,316.61 L613.76,321.71 L618.86,316.61 L613.76,311.51Z M618.86,330.9 L613.76,325.8 L608.66,330.9 L608.76,331 L618.76,331Z M615.8,295.18 L620.9,300.28 L626,295.18 L625.32,294.5 L616.48,294.5Z M615.8,309.47 L620.9,314.57 L626,309.47 L620.9,304.37Z M615.8,323.75 L620.9,328.86 L626,323.75 L620.9,318.65Z M628.04,297.23 L622.94,302.33 L628.04,307.43 L629.6,305.87 L629.6,298.78Z M628.04,311.51 L622.94,316.61 L628.04,321.71 L629.6,320.16 L629.6,313.07Z M628.04,325.8 L622.94,330.9 L623.05,331 L629.6,331 L629.6,327.35Z" stroke="#3a3a3a" stroke-width="1" fill="none" stroke-linejoin="round"/>
<circle cx="587.5" cy="296" r="3.5" stroke="#000" stroke-width="1.3" fill="#fff"/>
<circle cx="587.5" cy="296" r="1" stroke="#111" stroke-width="0.9" fill="#fff"/>
<circle cx="610.5" cy="296" r="3.5" stroke="#000" stroke-width="1.3" fill="#fff"/>
<circle cx="610.5" cy="296" r="1" stroke="#111" stroke-width="0.9" fill="#fff"/>
<path d="M570.9,365.37 L576,360.27 L571.73,356 L570.07,356 L569.1,356.97 L569.1,363.57Z M570.9,379.66 L576,374.56 L570.9,369.46 L569.1,371.26 L569.1,377.86Z M576,388.84 L570.9,383.74 L569.1,385.54 L569.1,392.14 L569.96,393 L571.84,393Z M578.04,358.23 L580.27,356 L575.82,356Z M572.94,367.41 L578.04,372.51 L583.14,367.41 L582.43,366.7 L581.99,366.67 L581.49,366.6 L580.99,366.48 L580.51,366.3 L580.05,366.09 L579.61,365.82 L579.2,365.52 L578.82,365.18 L578.48,364.8 L578.18,364.39 L577.91,363.95 L577.7,363.49 L577.52,363.01 L577.49,362.87Z M572.94,381.7 L578.04,386.8 L583.14,381.7 L578.04,376.6Z M578.04,390.88 L575.93,393 L580.16,393Z M580.09,374.56 L585.19,379.66 L590.29,374.56 L585.19,369.46Z M590.29,388.84 L585.19,383.74 L580.09,388.84 L584.24,393 L586.13,393Z M594.56,356 L592.31,356 L592.47,356.46 L592.6,356.97 L592.67,357.48 L592.69,357.86Z M587.23,367.41 L592.33,372.51 L597.43,367.41 L592.33,362.31Z M587.23,381.7 L592.33,386.8 L597.43,381.7 L592.33,376.6Z M592.33,390.88 L590.21,393 L594.44,393Z M594.37,360.27 L599.47,365.37 L604.57,360.27 L600.3,356 L598.64,356Z M594.37,374.56 L599.47,379.66 L604.57,374.56 L599.47,369.46Z M604.57,388.84 L599.47,383.74 L594.37,388.84 L598.53,393 L600.41,393Z M601.51,367.41 L606.62,372.51 L611.72,367.41 L606.62,362.31Z M601.51,381.7 L606.62,386.8 L611.72,381.7 L606.62,376.6Z M606.62,390.88 L604.5,393 L608.73,393Z M608.66,374.56 L613.76,379.66 L618.86,374.56 L613.76,369.46Z M618.86,388.84 L613.76,383.74 L608.66,388.84 L612.82,393 L614.7,393Z M620.9,358.23 L623.13,356 L618.67,356Z M615.8,367.41 L620.9,372.51 L626,367.41 L620.9,362.31 L620.57,362.65 L620.48,363.01 L620.3,363.49 L620.09,363.95 L619.82,364.39 L619.52,364.8 L619.18,365.18 L618.8,365.52 L618.39,365.82 L617.95,366.09 L617.49,366.3 L617.01,366.48 L616.65,366.57Z M615.8,381.7 L620.9,386.8 L626,381.7 L620.9,376.6Z M620.9,390.88 L618.79,393 L623.02,393Z M628.87,356 L627.21,356 L622.94,360.27 L628.04,365.37 L629.6,363.81 L629.6,356.73Z M628.04,369.46 L622.94,374.56 L628.04,379.66 L629.6,378.1 L629.6,371.01Z M628.04,383.74 L622.94,388.84 L627.1,393 L628.99,393 L629.6,392.39 L629.6,385.3Z" stroke="#3a3a3a" stroke-width="1" fill="none" stroke-linejoin="round"/>
<circle cx="587.4" cy="358" r="3.5" stroke="#000" stroke-width="1.3" fill="#fff"/>
<circle cx="587.4" cy="358" r="1" stroke="#111" stroke-width="0.9" fill="#fff"/>
<circle cx="610.4" cy="358" r="3.5" stroke="#000" stroke-width="1.3" fill="#fff"/>
<circle cx="610.4" cy="358" r="1" stroke="#111" stroke-width="0.9" fill="#fff"/>
<circle cx="582.5" cy="361.5" r="4" stroke="#999" stroke-width="1.5" fill="none"/>
<circle cx="615.5" cy="361.5" r="4" stroke="#999" stroke-width="1.5" fill="none"/>
<circle cx="587.4" cy="358" r="3.5" stroke="#000" stroke-width="1.3" fill="#fff"/>
<circle cx="587.4" cy="358" r="1" stroke="#111" stroke-width="0.9" fill="#fff"/>
<circle cx="610.4" cy="358" r="3.5" stroke="#000" stroke-width="1.3" fill="#fff"/>
<circle cx="610.4" cy="358" r="1" stroke="#111" stroke-width="0.9" fill="#fff"/>
<path d="M568.46,395.89 L568.29,395.71 L565.7,398.3 L565.7,398.64Z M568.46,410.17 L565.7,407.41 L565.7,412.93Z M568.46,424.46 L565.7,421.7 L565.7,427.21Z M568.46,438.74 L565.7,435.99 L565.7,441.5Z M568.46,453.03 L565.7,450.27 L565.7,455.79Z M568.46,467.31 L565.7,464.56 L565.7,470.07Z M568.46,481.6 L565.7,478.84 L565.7,484.36Z M570.5,408.13 L575.6,403.03 L570.5,397.93 L565.7,402.73 L565.7,403.33Z M570.5,422.41 L575.6,417.31 L570.5,412.21 L565.7,417.01 L565.7,417.61Z M570.5,436.7 L575.6,431.6 L570.5,426.5 L565.7,431.3 L565.7,431.9Z M570.5,450.99 L575.6,445.89 L570.5,440.79 L565.7,445.59 L565.7,446.19Z M570.5,465.27 L575.6,460.17 L570.5,455.07 L565.7,459.87 L565.7,460.47Z M570.5,479.56 L575.6,474.46 L570.5,469.36 L565.7,474.16 L565.7,474.76Z M570.5,483.64 L566.74,487.4 L574.26,487.4Z M572.54,395.89 L577.64,400.99 L582.74,395.89 L581.36,394.5 L573.93,394.5Z M582.74,410.17 L577.64,405.07 L572.54,410.17 L576.92,414.55 L577.07,414.35 L577.44,413.94 L577.85,413.57 L578.29,413.24 L578.76,412.96 L579.26,412.73 L579.77,412.54 L580.31,412.41 L580.54,412.37Z M572.54,424.46 L577.64,429.56 L582.74,424.46 L581.77,423.48 L581.4,423.5 L580.85,423.47 L580.31,423.39 L579.77,423.26 L579.26,423.07 L578.76,422.84 L578.29,422.56 L577.85,422.23 L577.44,421.86 L577.07,421.45 L576.74,421.01 L576.46,420.54 L576.46,420.54Z M572.54,438.74 L577.64,443.84 L582.74,438.74 L577.64,433.64Z M572.54,453.03 L577.64,458.13 L582.74,453.03 L577.64,447.93Z M572.54,467.31 L577.64,472.42 L582.74,467.31 L577.64,462.21Z M572.54,481.6 L577.64,486.7 L582.74,481.6 L577.64,476.5Z M579.69,403.03 L584.79,408.13 L589.89,403.03 L584.79,397.93Z M589.89,417.31 L584.79,412.21 L584.04,412.96 L584.04,412.96 L584.51,413.24 L584.95,413.57 L585.36,413.94 L585.73,414.35 L586.06,414.79 L586.34,415.26 L586.57,415.76 L586.76,416.27 L586.89,416.81 L586.97,417.35 L587,417.9 L586.97,418.45 L586.89,418.99 L586.76,419.53 L586.57,420.04 L586.34,420.54 L586.06,421.01 L585.73,421.45 L585.55,421.65Z M579.69,431.6 L584.79,436.7 L589.89,431.6 L584.79,426.5Z M579.69,445.89 L584.79,450.99 L589.89,445.89 L584.79,440.79Z M579.69,460.17 L584.79,465.27 L589.89,460.17 L584.79,455.07Z M579.69,474.46 L584.79,479.56 L589.89,474.46 L584.79,469.36Z M584.79,483.64 L581.03,487.4 L588.54,487.4Z M586.83,395.89 L591.93,400.99 L597.03,395.89 L595.64,394.5 L588.21,394.5Z M586.83,410.17 L591.93,415.27 L597.03,410.17 L591.93,405.07Z M586.83,424.46 L591.93,429.56 L597.03,424.46 L591.93,419.36Z M586.83,438.74 L591.93,443.84 L597.03,438.74 L591.93,433.64Z M586.83,453.03 L591.93,458.13 L597.03,453.03 L591.93,447.93Z M586.83,467.31 L591.93,472.42 L597.03,467.31 L591.93,462.21Z M586.83,481.6 L591.93,486.7 L597.03,481.6 L591.93,476.5Z M593.97,403.03 L599.07,408.13 L604.17,403.03 L599.07,397.93Z M593.97,417.31 L599.07,422.41 L604.17,417.31 L599.07,412.21Z M593.97,431.6 L599.07,436.7 L604.17,431.6 L599.07,426.5Z M593.97,445.89 L599.07,450.99 L604.17,445.89 L599.07,440.79Z M593.97,460.17 L599.07,465.27 L604.17,460.17 L599.07,455.07Z M593.97,474.46 L599.07,479.56 L604.17,474.46 L599.07,469.36Z M599.07,483.64 L595.32,487.4 L602.83,487.4Z M601.12,395.89 L606.22,400.99 L611.32,395.89 L609.93,394.5 L602.5,394.5Z M601.12,410.17 L606.22,415.27 L611.32,410.17 L606.22,405.07Z M601.12,424.46 L606.22,429.56 L611.32,424.46 L606.22,419.36Z M601.12,438.74 L606.22,443.84 L611.32,438.74 L606.22,433.64Z M601.12,453.03 L606.22,458.13 L611.32,453.03 L606.22,447.93Z M601.12,467.31 L606.22,472.42 L611.32,467.31 L606.22,462.21Z M601.12,481.6 L606.22,486.7 L611.32,481.6 L606.22,476.5Z M608.26,403.03 L613.36,408.13 L618.46,403.03 L613.36,397.93Z M613.36,412.21 L608.26,417.31 L610.3,419.35 L610.21,418.99 L610.13,418.45 L610.1,417.9 L610.13,417.35 L610.21,416.81 L610.34,416.27 L610.53,415.76 L610.76,415.26 L611.04,414.79 L611.37,414.35 L611.74,413.94 L612.15,413.57 L612.59,413.24 L613.06,412.96 L613.56,412.73 L613.79,412.64Z M608.26,431.6 L613.36,436.7 L618.46,431.6 L613.36,426.5Z M608.26,445.89 L613.36,450.99 L618.46,445.89 L613.36,440.79Z M608.26,460.17 L613.36,465.27 L618.46,460.17 L613.36,455.07Z M608.26,474.46 L613.36,479.56 L618.46,474.46 L613.36,469.36Z M613.36,483.64 L609.6,487.4 L617.11,487.4Z M615.4,395.89 L620.5,400.99 L625.6,395.89 L624.22,394.5 L616.79,394.5Z M625.6,410.17 L620.5,405.07 L615.4,410.17 L618.06,412.83 L618.34,412.96 L618.81,413.24 L619.25,413.57 L619.66,413.94 L620.03,414.35 L620.36,414.79 L620.59,415.18Z M615.4,424.46 L620.5,429.56 L625.6,424.46 L620.96,419.81 L620.87,420.04 L620.64,420.54 L620.36,421.01 L620.03,421.45 L619.66,421.86 L619.25,422.23 L618.81,422.56 L618.34,422.84 L617.84,423.07 L617.33,423.26 L616.79,423.39 L616.41,423.45Z M615.4,438.74 L620.5,443.84 L625.6,438.74 L620.5,433.64Z M615.4,453.03 L620.5,458.13 L625.6,453.03 L620.5,447.93Z M615.4,467.31 L620.5,472.42 L625.6,467.31 L620.5,462.21Z M615.4,481.6 L620.5,486.7 L625.6,481.6 L620.5,476.5Z M622.54,403.03 L627.64,408.13 L632.74,403.03 L627.64,397.93Z M622.54,417.31 L627.64,422.41 L632.74,417.31 L627.64,412.21Z M622.54,431.6 L627.64,436.7 L632.74,431.6 L627.64,426.5Z M622.54,445.89 L627.64,450.99 L632.74,445.89 L627.64,440.79Z M622.54,460.17 L627.64,465.27 L632.74,460.17 L627.64,455.07Z M622.54,474.46 L627.64,479.56 L632.74,474.46 L627.64,469.36Z M627.64,483.64 L623.89,487.4 L631.4,487.4Z M629.69,395.89 L633.1,399.3 L633.1,398.3 L630.19,395.39Z M629.69,410.17 L633.1,413.58 L633.1,413.24 L633.03,413.12 L632.84,412.72 L632.69,412.31 L632.59,411.88 L632.52,411.44 L632.5,411 L632.52,410.56 L632.59,410.12 L632.69,409.69 L632.84,409.28 L633.03,408.88 L633.1,408.76 L633.1,406.76Z M629.69,424.46 L633.1,427.87 L633.1,421.04Z M629.69,438.74 L633.1,442.16 L633.1,435.33Z M629.69,453.03 L633.1,456.44 L633.1,449.62Z M629.69,467.31 L633.1,470.73 L633.1,463.9Z M629.69,481.6 L633.1,485.01 L633.1,478.19Z" stroke="#3a3a3a" stroke-width="1" fill="none" stroke-linejoin="round"/>
<circle cx="581.4" cy="417.9" r="4.3" stroke="#aaa" stroke-width="1.4" fill="none"/>
<circle cx="581.4" cy="417.9" r="3.5" stroke="#000" stroke-width="1.3" fill="#fff"/>
<circle cx="581.4" cy="417.9" r="1" stroke="#111" stroke-width="0.9" fill="#fff"/>
<circle cx="615.7" cy="417.9" r="4.3" stroke="#aaa" stroke-width="1.4" fill="none"/>
<circle cx="615.7" cy="417.9" r="3.5" stroke="#000" stroke-width="1.3" fill="#fff"/>
<circle cx="615.7" cy="417.9" r="1" stroke="#111" stroke-width="0.9" fill="#fff"/>
<path d="M563.4,270 V240 Q563.4,238.5 564.25,238.5 Q565.1,238.5 565.1,240 V270" stroke="#333" stroke-width="0.8" fill="none"/>
<line x1="632.8" y1="233.5" x2="632.8" y2="270" stroke="#333" stroke-width="0.8"/>
<line x1="634.2" y1="233.5" x2="634.2" y2="270" stroke="#666" stroke-width="0.6"/>
<path d="M563.4,333 V301.5 Q563.4,300 564.25,300 Q565.1,300 565.1,301.5 V333" stroke="#333" stroke-width="0.8" fill="none"/>
<line x1="632.8" y1="295" x2="632.8" y2="333" stroke="#333" stroke-width="0.8"/>
<line x1="634.2" y1="295" x2="634.2" y2="333" stroke="#666" stroke-width="0.6"/>
<path d="M563.4,392.5 V363.5 Q563.4,362 564.25,362 Q565.1,362 565.1,363.5 V392.5" stroke="#333" stroke-width="0.8" fill="none"/>
<line x1="632.8" y1="357" x2="632.8" y2="392.5" stroke="#333" stroke-width="0.8"/>
<line x1="634.2" y1="357" x2="634.2" y2="392.5" stroke="#666" stroke-width="0.6"/>
<circle cx="560.5" cy="216" r="1.4" stroke="#111" stroke-width="0.95" fill="none"/>
<circle cx="560.5" cy="278.3" r="1.4" stroke="#111" stroke-width="0.95" fill="none"/>
<circle cx="560.5" cy="340.4" r="1.4" stroke="#111" stroke-width="0.95" fill="none"/>
<circle cx="561" cy="224.6" r="3.2" stroke="#000" stroke-width="1.2" fill="#fff"/>
<circle cx="561" cy="224.6" r="1.3" stroke="#111" stroke-width="0.9" fill="#aaa"/>
<circle cx="561" cy="286.8" r="3.2" stroke="#000" stroke-width="1.2" fill="#fff"/>
<circle cx="561" cy="286.8" r="1.3" stroke="#111" stroke-width="0.9" fill="#aaa"/>
<circle cx="561" cy="348.6" r="3.2" stroke="#000" stroke-width="1.2" fill="#fff"/>
<circle cx="561" cy="348.6" r="1.3" stroke="#111" stroke-width="0.9" fill="#aaa"/>
<circle cx="637" cy="224.6" r="3.2" stroke="#000" stroke-width="1.2" fill="#fff"/>
<circle cx="637" cy="224.6" r="1.3" stroke="#111" stroke-width="0.9" fill="#aaa"/>
<circle cx="637" cy="287.4" r="3.2" stroke="#000" stroke-width="1.2" fill="#fff"/>
<circle cx="637" cy="287.4" r="1.3" stroke="#111" stroke-width="0.9" fill="#aaa"/>
<circle cx="637" cy="348.6" r="3.2" stroke="#000" stroke-width="1.2" fill="#fff"/>
<circle cx="637" cy="348.6" r="1.3" stroke="#111" stroke-width="0.9" fill="#aaa"/>
<circle cx="560.5" cy="233.5" r="1.3" stroke="#111" stroke-width="0.95" fill="none"/>
<circle cx="560.5" cy="295.5" r="1.3" stroke="#111" stroke-width="0.95" fill="none"/>
<circle cx="560.5" cy="357" r="1.3" stroke="#111" stroke-width="0.95" fill="none"/>
<circle cx="635.6" cy="252.6" r="1.4" stroke="#111" stroke-width="0.95" fill="none"/>
<circle cx="635.6" cy="315" r="1.4" stroke="#111" stroke-width="0.95" fill="none"/>
<circle cx="635.6" cy="378" r="1.4" stroke="#111" stroke-width="0.95" fill="none"/>
<circle cx="561" cy="411" r="3.2" stroke="#000" stroke-width="1.2" fill="#fff"/>
<circle cx="561" cy="411" r="1.3" stroke="#111" stroke-width="0.9" fill="#aaa"/>
<circle cx="637" cy="411" r="3.2" stroke="#000" stroke-width="1.2" fill="#fff"/>
<circle cx="637" cy="411" r="1.3" stroke="#111" stroke-width="0.9" fill="#aaa"/>
<circle cx="560.6" cy="489.2" r="3.2" stroke="#000" stroke-width="1.2" fill="#fff"/>
<circle cx="560.6" cy="489.2" r="1.3" stroke="#111" stroke-width="0.9" fill="#aaa"/>
<circle cx="637.8" cy="489.2" r="3.2" stroke="#000" stroke-width="1.2" fill="#fff"/>
<circle cx="637.8" cy="489.2" r="1.3" stroke="#111" stroke-width="0.9" fill="#aaa"/>
<circle cx="599.2" cy="489.5" r="1.1" stroke="#111" stroke-width="0.8" fill="#333"/>
<path d="M633.6,230.1 L646,230.1 A7,7 0 0 1 646,244.1 L633.6,244.1" stroke="#000" stroke-width="1.35" fill="#fff"/>
<line x1="635.5" y1="230.1" x2="635.5" y2="244.1" stroke="#333" stroke-width="0.8"/>
<circle cx="646" cy="237.1" r="1.6" stroke="#111" stroke-width="1" fill="none"/>
<path d="M633.6,291.9 L646,291.9 A7,7 0 0 1 646,305.9 L633.6,305.9" stroke="#000" stroke-width="1.35" fill="#fff"/>
<line x1="635.5" y1="291.9" x2="635.5" y2="305.9" stroke="#333" stroke-width="0.8"/>
<circle cx="646" cy="298.9" r="1.6" stroke="#111" stroke-width="1" fill="none"/>
<path d="M633.6,353.6 L646,353.6 A7,7 0 0 1 646,367.6 L633.6,367.6" stroke="#000" stroke-width="1.35" fill="#fff"/>
<line x1="635.5" y1="353.6" x2="635.5" y2="367.6" stroke="#333" stroke-width="0.8"/>
<circle cx="646" cy="360.6" r="1.6" stroke="#111" stroke-width="1" fill="none"/>
<path d="M557,268.8 L552.6,268.8 A7,7 0 0 0 552.6,282.8 L557,282.8" stroke="#000" stroke-width="1.35" fill="#fff"/>
<circle cx="552.6" cy="275.8" r="1.6" stroke="#111" stroke-width="1" fill="none"/>
<rect x="557" y="269.8" width="4.5" height="5" rx="1" stroke="#333" stroke-width="0.7" fill="none"/>
<path d="M557,330.1 L552.6,330.1 A7,7 0 0 0 552.6,344.1 L557,344.1" stroke="#000" stroke-width="1.35" fill="#fff"/>
<circle cx="552.6" cy="337.1" r="1.6" stroke="#111" stroke-width="1" fill="none"/>
<rect x="557" y="331.1" width="4.5" height="5" rx="1" stroke="#333" stroke-width="0.7" fill="none"/>
<path d="M557,393 L552.6,393 A7,7 0 0 0 552.6,407 L557,407" stroke="#000" stroke-width="1.35" fill="#fff"/>
<circle cx="552.6" cy="400" r="1.6" stroke="#111" stroke-width="1" fill="none"/>
<rect x="557" y="394" width="4.5" height="5" rx="1" stroke="#333" stroke-width="0.7" fill="none"/>
<path d="M557.2,437.3 L549.6,443.6 Q547.6,446.6 549.6,449.6 L557.2,456" stroke="#000" stroke-width="1.3" fill="none"/>
<circle cx="552.3" cy="446.7" r="1.5" stroke="#111" stroke-width="1" fill="none"/>
<path d="M641.3,437.3 L648.9,443.6 Q650.9,446.6 648.9,449.6 L641.3,456" stroke="#000" stroke-width="1.3" fill="none"/>
<circle cx="646" cy="446.7" r="1.5" stroke="#111" stroke-width="1" fill="none"/>
<rect x="560.5" y="300.5" width="4.7" height="27.5" rx="2" stroke="#222" stroke-width="0.8" fill="none"/>
<line x1="561.2" y1="302.5" x2="561.2" y2="326" stroke="#111" stroke-width="1.3"/>
<rect x="560.5" y="362.3" width="4.7" height="26.3" rx="2" stroke="#222" stroke-width="0.8" fill="none"/>
<line x1="561.2" y1="364.3" x2="561.2" y2="386.6" stroke="#111" stroke-width="1.3"/>
<line x1="557" y1="490.9" x2="641.5" y2="490.9" stroke="#333" stroke-width="0.8"/>
<path d="M557.2,491 V498.3 Q557.2,500.3 559.2,500.3 H639.5 Q641.5,500.3 641.5,498.3 V491" stroke="#111" stroke-width="1.1" fill="none"/>
<line x1="500" y1="209.3" x2="565" y2="209.3" stroke="#333" stroke-width="0.7"/>
<line x1="500" y1="493" x2="565" y2="493" stroke="#333" stroke-width="0.7"/>
<line x1="502.6" y1="209.3" x2="502.6" y2="493" stroke="#333" stroke-width="0.7"/>
<path d="M502.6,209.5 L501.7,213.5 L503.5,213.5 Z" stroke="#000" stroke-width="0.3" fill="#000"/>
<path d="M502.6,492.8 L501.7,488.8 L503.5,488.8 Z" stroke="#000" stroke-width="0.3" fill="#000"/>
<text x="501.4" y="350.8" font-family="Liberation Sans" font-size="8.2" font-weight="normal" text-anchor="middle" fill="#000" stroke="#000" stroke-width="0.45" style="white-space:pre" textLength="22.9" lengthAdjust="spacingAndGlyphs" transform="rotate(-90 501.4 350.8)">368.2</text>
<line x1="516.6" y1="252.7" x2="516.6" y2="489.7" stroke="#333" stroke-width="0.7"/>
<line x1="514" y1="252.7" x2="636" y2="252.7" stroke="#333" stroke-width="0.7"/>
<line x1="514" y1="314.3" x2="636" y2="314.3" stroke="#333" stroke-width="0.7"/>
<line x1="514" y1="393.2" x2="557" y2="393.2" stroke="#333" stroke-width="0.7"/>
<line x1="514" y1="446.7" x2="650" y2="446.7" stroke="#333" stroke-width="0.7"/>
<line x1="514" y1="489.7" x2="636" y2="489.7" stroke="#333" stroke-width="0.7"/>
<path d="M516.6,252.9 L515.7,256.9 L517.5,256.9 Z" stroke="#000" stroke-width="0.3" fill="#000"/>
<path d="M516.6,314.1 L515.7,310.1 L517.5,310.1 Z" stroke="#000" stroke-width="0.3" fill="#000"/>
<text x="515.4" y="283.5" font-family="Liberation Sans" font-size="8.2" font-weight="normal" text-anchor="middle" fill="#000" stroke="#000" stroke-width="0.45" style="white-space:pre" textLength="10.5" lengthAdjust="spacingAndGlyphs" transform="rotate(-90 515.4 283.5)">80</text>
<path d="M516.6,314.5 L515.7,318.5 L517.5,318.5 Z" stroke="#000" stroke-width="0.3" fill="#000"/>
<path d="M516.6,393 L515.7,389 L517.5,389 Z" stroke="#000" stroke-width="0.3" fill="#000"/>
<text x="515.4" y="353.75" font-family="Liberation Sans" font-size="8.2" font-weight="normal" text-anchor="middle" fill="#000" stroke="#000" stroke-width="0.45" style="white-space:pre" textLength="19.6" lengthAdjust="spacingAndGlyphs" transform="rotate(-90 515.4 353.75)">101.6</text>
<path d="M516.6,393.4 L515.7,397.4 L517.5,397.4 Z" stroke="#000" stroke-width="0.3" fill="#000"/>
<path d="M516.6,446.5 L515.7,442.5 L517.5,442.5 Z" stroke="#000" stroke-width="0.3" fill="#000"/>
<text x="515.4" y="419.95" font-family="Liberation Sans" font-size="8.2" font-weight="normal" text-anchor="middle" fill="#000" stroke="#000" stroke-width="0.45" style="white-space:pre" textLength="10.5" lengthAdjust="spacingAndGlyphs" transform="rotate(-90 515.4 419.95)">69</text>
<path d="M516.6,446.9 L515.7,450.9 L517.5,450.9 Z" stroke="#000" stroke-width="0.3" fill="#000"/>
<path d="M516.6,489.5 L515.7,485.5 L517.5,485.5 Z" stroke="#000" stroke-width="0.3" fill="#000"/>
<text x="515.4" y="468.2" font-family="Liberation Sans" font-size="8.2" font-weight="normal" text-anchor="middle" fill="#000" stroke="#000" stroke-width="0.45" style="white-space:pre" textLength="19.4" lengthAdjust="spacingAndGlyphs" transform="rotate(-90 515.4 468.2)">55.7</text>
<line x1="677.1" y1="216.4" x2="677.1" y2="489.7" stroke="#333" stroke-width="0.7"/>
<line x1="558.6" y1="216.4" x2="679.3" y2="216.4" stroke="#333" stroke-width="0.7"/>
<line x1="558.6" y1="277.8" x2="679.3" y2="277.8" stroke="#333" stroke-width="0.7"/>
<line x1="558.6" y1="340.5" x2="679.3" y2="340.5" stroke="#333" stroke-width="0.7"/>
<line x1="633" y1="393.3" x2="679.3" y2="393.3" stroke="#333" stroke-width="0.7"/>
<line x1="633" y1="489.7" x2="679.3" y2="489.7" stroke="#333" stroke-width="0.7"/>
<path d="M677.1,216.6 L676.2,220.6 L678,220.6 Z" stroke="#000" stroke-width="0.3" fill="#000"/>
<path d="M677.1,277.6 L676.2,273.6 L678,273.6 Z" stroke="#000" stroke-width="0.3" fill="#000"/>
<text x="676.5" y="247.1" font-family="Liberation Sans" font-size="8.2" font-weight="normal" text-anchor="middle" fill="#000" stroke="#000" stroke-width="0.45" style="white-space:pre" textLength="11" lengthAdjust="spacingAndGlyphs" transform="rotate(-90 676.5 247.1)">80</text>
<path d="M677.1,278 L676.2,282 L678,282 Z" stroke="#000" stroke-width="0.3" fill="#000"/>
<path d="M677.1,340.3 L676.2,336.3 L678,336.3 Z" stroke="#000" stroke-width="0.3" fill="#000"/>
<text x="676.5" y="309.15" font-family="Liberation Sans" font-size="8.2" font-weight="normal" text-anchor="middle" fill="#000" stroke="#000" stroke-width="0.45" style="white-space:pre" textLength="11" lengthAdjust="spacingAndGlyphs" transform="rotate(-90 676.5 309.15)">80</text>
<path d="M677.1,340.7 L676.2,344.7 L678,344.7 Z" stroke="#000" stroke-width="0.3" fill="#000"/>
<path d="M677.1,393.1 L676.2,389.1 L678,389.1 Z" stroke="#000" stroke-width="0.3" fill="#000"/>
<text x="676.5" y="366.9" font-family="Liberation Sans" font-size="8.2" font-weight="normal" text-anchor="middle" fill="#000" stroke="#000" stroke-width="0.45" style="white-space:pre" textLength="18.6" lengthAdjust="spacingAndGlyphs" transform="rotate(-90 676.5 366.9)">68.5</text>
<path d="M677.1,393.5 L676.2,397.5 L678,397.5 Z" stroke="#000" stroke-width="0.3" fill="#000"/>
<path d="M677.1,489.5 L676.2,485.5 L678,485.5 Z" stroke="#000" stroke-width="0.3" fill="#000"/>
<text x="676.5" y="441.5" font-family="Liberation Sans" font-size="8.2" font-weight="normal" text-anchor="middle" fill="#000" stroke="#000" stroke-width="0.45" style="white-space:pre" textLength="20.6" lengthAdjust="spacingAndGlyphs" transform="rotate(-90 676.5 441.5)">124.7</text>
<line x1="547.7" y1="447" x2="547.7" y2="527.8" stroke="#333" stroke-width="0.7"/>
<line x1="650.6" y1="447" x2="650.6" y2="527.8" stroke="#333" stroke-width="0.7"/>
<line x1="547.7" y1="524.3" x2="650.6" y2="524.3" stroke="#333" stroke-width="0.7"/>
<path d="M547.9,524.3 L551.9,523.4 L551.9,525.2 Z" stroke="#000" stroke-width="0.3" fill="#000"/>
<path d="M650.4,524.3 L646.4,523.4 L646.4,525.2 Z" stroke="#000" stroke-width="0.3" fill="#000"/>
<text x="598.3" y="523.8" font-family="Liberation Sans" font-size="8.2" font-weight="normal" text-anchor="middle" fill="#000" stroke="#000" stroke-width="0.45" style="white-space:pre" textLength="14" lengthAdjust="spacingAndGlyphs">134</text>
<text x="522" y="303.4" font-family="Liberation Sans" font-size="7.2" font-weight="normal" text-anchor="start" fill="#000" stroke="#000" stroke-width="0.45" style="white-space:pre" textLength="26.3" lengthAdjust="spacingAndGlyphs">Uscita</text>
<text x="522" y="310.2" font-family="Liberation Sans" font-size="7.2" font-weight="normal" text-anchor="start" fill="#000" stroke="#000" stroke-width="0.45" style="white-space:pre" textLength="22" lengthAdjust="spacingAndGlyphs">G3/4"</text>
<line x1="548.3" y1="300.6" x2="559.7" y2="306.3" stroke="#111" stroke-width="0.7"/>
<text x="522" y="362.8" font-family="Liberation Sans" font-size="7.2" font-weight="normal" text-anchor="start" fill="#000" stroke="#000" stroke-width="0.45" style="white-space:pre" textLength="26.3" lengthAdjust="spacingAndGlyphs">Uscita</text>
<text x="522" y="369.6" font-family="Liberation Sans" font-size="7.2" font-weight="normal" text-anchor="start" fill="#000" stroke="#000" stroke-width="0.45" style="white-space:pre" textLength="22" lengthAdjust="spacingAndGlyphs">G3/4"</text>
<line x1="548.3" y1="360" x2="559.7" y2="368" stroke="#111" stroke-width="0.7"/>
<text x="546.4" y="554.4" font-family="Liberation Sans" font-size="11.2" font-weight="normal" text-anchor="start" fill="#000" stroke="#000" stroke-width="0.45" style="white-space:pre" textLength="99.6" lengthAdjust="spacingAndGlyphs">Vista  da  dietro</text></svg>
</body></html>
